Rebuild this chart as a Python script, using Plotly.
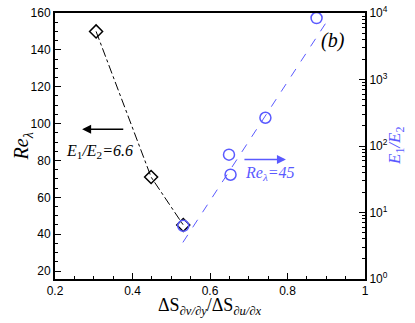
import plotly.graph_objects as go

# left axis: Re_lambda vs ratio (E1/E2 = 6.6)
ratio_re = [0.306, 0.448, 0.531]
re_lambda = [150, 71, 45]

# right axis: E1/E2 vs ratio (Re_lambda = 45)
ratio_e = [0.531, 0.649, 0.653, 0.743, 0.875]
e_ratio = [6.3, 74, 37, 266, 8400]

# dashed fit line for E1/E2
fit_x = [0.53, 0.899]
fit_y = [3.55, 7080]

blue = "rgb(90,90,255)"
serif = "Liberation Serif"
sans = "Liberation Sans"

fig = go.Figure()

fig.add_trace(go.Scatter(
    x=ratio_re, y=re_lambda, mode="lines+markers",
    line=dict(color="black", width=1, dash="dashdot"),
    marker=dict(symbol="diamond-open", size=10, color="black", line=dict(width=1.5)),
    showlegend=False))

fig.add_trace(go.Scatter(
    x=fit_x, y=fit_y, mode="lines", yaxis="y2",
    line=dict(color=blue, width=1, dash="dash"),
    showlegend=False))

fig.add_trace(go.Scatter(
    x=ratio_e, y=e_ratio, mode="markers", yaxis="y2",
    marker=dict(symbol="circle-open", size=11, color=blue, line=dict(width=1.5)),
    showlegend=False))

fig.update_layout(
    width=415, height=323,
    margin=dict(l=55, r=50, t=13, b=44),
    plot_bgcolor="white", paper_bgcolor="white",
    font=dict(family=sans, size=12, color="black"),
    xaxis=dict(
        range=[0.2, 1], dtick=0.2, tick0=0.2, automargin=False,
        ticks="inside", ticklen=6, tickwidth=1, tickcolor="black",
        minor=dict(ticks="inside", dtick=0.05, ticklen=3, tickcolor="black"),
        showline=True, linecolor="black", linewidth=2, mirror=True,
        showgrid=False, zeroline=False),
    yaxis=dict(
        range=[15.7, 160], dtick=20, tick0=20, automargin=False,
        ticks="inside", ticklen=6, tickwidth=1, tickcolor="black",
        minor=dict(ticks="inside", dtick=5, ticklen=3, tickcolor="black"),
        showline=True, linecolor="black", linewidth=2,
        showgrid=False, zeroline=False),
    yaxis2=dict(
        type="log", range=[0, 4], overlaying="y", side="right", automargin=False,
        tickvals=[1, 10, 100, 1000, 10000],
        ticktext=["10<sup>0</sup>", "10<sup>1</sup>", "10<sup>2</sup>",
                  "10<sup>3</sup>", "10<sup>4</sup>"],
        ticks="inside", ticklen=6, tickwidth=1, tickcolor="black",
        minor=dict(ticks="inside", dtick="D1", ticklen=3, tickcolor="black"),
        showline=True, linecolor="black", linewidth=2,
        showgrid=False, zeroline=False),
)

# axis titles placed as annotations
fig.add_annotation(x=0.5, y=-0.105, xref="paper", yref="paper", showarrow=False,
                   xanchor="center", yanchor="middle",
                   text="ΔS<sub><i>∂v/∂y</i></sub>/ΔS<sub><i>∂u/∂x</i></sub>",
                   font=dict(family=serif, size=18, color="black"))
fig.add_annotation(x=-0.105, y=0.5, xref="paper", yref="paper", showarrow=False,
                   xanchor="center", yanchor="middle", textangle=-90,
                   text="<i>Re</i><sub><i>λ</i></sub>",
                   font=dict(family=serif, size=20, color="black"))
fig.add_annotation(x=1.1, y=0.5, xref="paper", yref="paper", showarrow=False,
                   xanchor="center", yanchor="middle", textangle=-90,
                   text="<i>E</i><sub>1</sub><i>/E</i><sub>2</sub>",
                   font=dict(family=serif, size=17, color=blue))

fig.add_annotation(x=0.27, y=97, ax=0.38, ay=97, xref="x", yref="y",
                   axref="x", ayref="y", text="", showarrow=True,
                   arrowhead=2, arrowsize=1.2, arrowwidth=1.5, arrowcolor="black")
fig.add_annotation(x=0.316, y=84.6, xref="x", yref="y", showarrow=False,
                   text="<i>E</i><sub>1</sub><i>/E</i><sub>2</sub><i>=6.6</i>",
                   font=dict(family=serif, size=16, color="black"))

fig.add_annotation(x=0.796, y=80.5, ax=0.685, ay=80.5, xref="x", yref="y",
                   axref="x", ayref="y", text="", showarrow=True,
                   arrowhead=2, arrowsize=1.2, arrowwidth=1.5, arrowcolor=blue)
fig.add_annotation(x=0.755, y=72.7, xref="x", yref="y", showarrow=False,
                   text="<i>Re</i><sub><i>λ</i></sub><i>=45</i>",
                   font=dict(family=serif, size=16, color=blue))

fig.add_annotation(x=0.917, y=145, xref="x", yref="y", showarrow=False,
                   text="<i>(b)</i>", font=dict(family=serif, size=20, color="black"))

# drop the default 8px body margin so the figure sits at the page corner
fig.write_html("out.html", config={"displayModeBar": False},
               post_script="document.body.style.margin = '0px';")
